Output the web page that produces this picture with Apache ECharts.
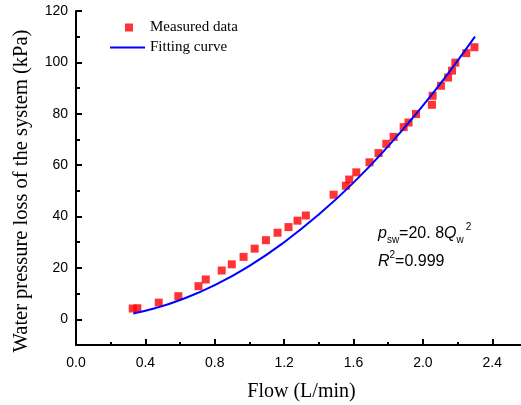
<!DOCTYPE html>
<html>
<head>
<meta charset="utf-8">
<script src="https://cdn.jsdelivr.net/npm/echarts@6/dist/echarts.min.js"></script>
<style>html,body{margin:0;padding:0;background:#fff}#c{width:521px;height:405px}</style>
</head>
<body>
<div id="c"></div>
<script>
const flow = [0.327, 0.354, 0.477, 0.59, 0.706, 0.748, 0.84, 0.898, 0.966, 1.03, 1.095, 1.162, 1.225, 1.277, 1.325, 1.485, 1.556, 1.575, 1.616, 1.692, 1.744, 1.789, 1.831, 1.889, 1.917, 1.96, 2.052, 2.056, 2.104, 2.145, 2.168, 2.187, 2.25, 2.297];
const pressure = [4.2, 4.3, 6.5, 9.0, 12.9, 15.5, 19.0, 21.4, 24.3, 27.5, 30.8, 33.7, 35.9, 38.4, 40.4, 48.5, 52.0, 54.4, 57.2, 61.1, 64.7, 68.3, 71.0, 74.8, 76.6, 79.9, 83.5, 87.0, 90.9, 94.1, 96.8, 99.9, 103.6, 105.9];
// Fitting curve points
const fitFlow = [0.33, 0.45, 0.6, 0.8, 1.0, 1.2, 1.4, 1.6, 1.8, 2.0, 2.15, 2.3];
const fitPressure = [2.3, 4.2, 7.5, 13.3, 20.8, 30.0, 40.8, 53.2, 67.4, 83.2, 96.1, 110.0];
// Tick labels
const xTickLabels = ['0.0', '0.4', '0.8', '1.2', '1.6', '2.0', '2.4'];
const yTickLabels = ['0', '20', '40', '60', '80', '100', '120'];

const chart = echarts.init(document.getElementById('c'), null, {renderer: 'canvas'});
const serif = 'Liberation Serif';
const sans = 'Liberation Sans';
const black2 = {color: '#000', width: 2};
const option = {
  animation: false,
  backgroundColor: '#fff',
  grid: {left: 76, right: -6, top: 11, bottom: 60, outerBoundsMode: 'none', containLabel: false},
  xAxis: [{
    type: 'value', min: 0, max: 2.6, interval: 0.4, position: 'bottom',
    axisLine: {show: true, onZero: false, lineStyle: black2},
    axisTick: {show: true, inside: true, length: 6, lineStyle: black2},
    axisLabel: {
      showMaxLabel: false, color: '#000', fontFamily: sans, fontSize: 14, margin: 11,
      formatter: v => xTickLabels.find(s => Math.abs(parseFloat(s) - v) < 1e-6) || ''
    },
    splitLine: {show: false},
    name: 'Flow (L/min)', nameLocation: 'middle', nameGap: 37,
    nameTextStyle: {fontFamily: serif, fontSize: 20, color: '#000'}
  }, {
    type: 'value', min: 0, max: 2.6, interval: 0.2, position: 'bottom',
    axisLine: {show: false, onZero: false},
    axisTick: {show: true, inside: true, length: 3, lineStyle: black2},
    axisLabel: {show: false},
    splitLine: {show: false}
  }],
  yAxis: [{
    type: 'value', min: -10, max: 120, splitNumber: 6, position: 'left',
    axisLine: {show: true, onZero: false, lineStyle: black2},
    axisTick: {show: true, inside: true, length: 6, lineStyle: black2},
    axisLabel: {
      showMinLabel: false, color: '#000', fontFamily: sans, fontSize: 14, margin: 8,
      formatter: v => yTickLabels.find(s => Math.abs(parseFloat(s) - v) < 1e-6) || ''
    },
    splitLine: {show: false}
  }, {
    type: 'value', min: -10, max: 120, interval: 10, position: 'left',
    axisLine: {show: false, onZero: false},
    axisTick: {show: true, inside: true, length: 4, lineStyle: black2},
    axisLabel: {show: false},
    splitLine: {show: false}
  }],
  legend: [{
    data: ['Measured data'], left: 125, top: 20, padding: 0, itemWidth: 8, itemHeight: 8,
    textStyle: {fontFamily: serif, fontSize: 15, color: '#000', padding: [0, 0, 0, 12]}
  }, {
    data: [{name: 'Fitting curve', icon: 'path://M0,0L35,0L35,2L0,2Z'}],
    left: 110, top: 40, padding: 0, itemWidth: 35, itemHeight: 2,
    textStyle: {fontFamily: serif, fontSize: 15, color: '#000'}
  }],
  graphic: [{
    type: 'text', x: 22, y: 191, rotation: Math.PI / 2,
    style: {text: 'Water pressure loss of the system (kPa)', fontFamily: serif, fontSize: 20.5, fill: '#000', align: 'center', verticalAlign: 'middle'}
  }, {
    type: 'text', x: 378, y: 226,
    style: {
      text: '{i|p}{sub|sw}{n|=20. 8}{i|Q}{sub|w}{sup|2}',
      rich: {
        i: {fontFamily: sans, fontStyle: 'italic', fontSize: 16, lineHeight: 16, fill: '#000'},
        n: {fontFamily: sans, fontSize: 16, lineHeight: 16, fill: '#000'},
        sub: {fontFamily: sans, fontSize: 10, lineHeight: 10, fill: '#000', padding: [12, 0, 0, 0]},
        sup: {fontFamily: sans, fontSize: 10, lineHeight: 10, fill: '#000', padding: [0, 0, 13, 2]}
      }
    }
  }, {
    type: 'text', x: 378, y: 254,
    style: {
      text: '{i|R}{sup|2}{n|=0.999}',
      rich: {
        i: {fontFamily: sans, fontStyle: 'italic', fontSize: 16, lineHeight: 16, fill: '#000'},
        n: {fontFamily: sans, fontSize: 16, lineHeight: 16, fill: '#000'},
        sup: {fontFamily: sans, fontSize: 10, lineHeight: 10, fill: '#000', padding: [0, 0, 13, 0]}
      }
    }
  }],
  series: [{
    name: 'Measured data', type: 'scatter', xAxisIndex: 0, yAxisIndex: 0,
    symbol: 'rect', symbolSize: 8,
    itemStyle: {color: '#ff0000'},
    data: flow.map((q, i) => [q, pressure[i]]),
    z: 3
  }, {
    name: 'Fitting curve', type: 'line', xAxisIndex: 0, yAxisIndex: 0,
    smooth: true, showSymbol: false, symbol: 'none',
    lineStyle: {color: '#0000ff', width: 2},
    itemStyle: {color: '#0000ff'},
    data: fitFlow.map((q, i) => [q, fitPressure[i]]),
    z: 4
  }]
};
chart.setOption(option);
</script>
</body>
</html>
